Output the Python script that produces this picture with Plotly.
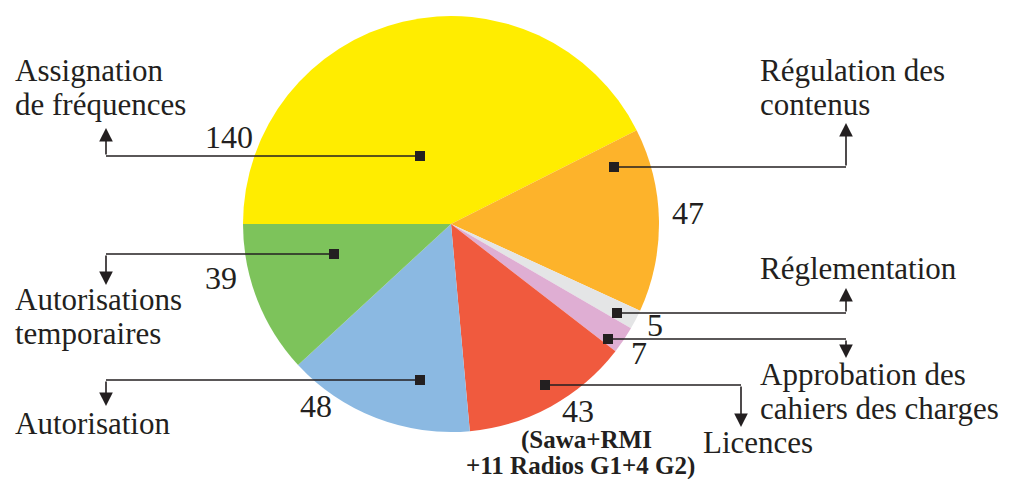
import plotly.graph_objects as go

# ---- data ----
categories = ["Assignation de fréquences", "Régulation des contenus", "Réglementation",
              "Approbation des cahiers des charges", "Licences", "Autorisation",
              "Autorisations temporaires"]
values = [140, 47, 5, 7, 43, 48, 39]
value_labels = ["140", "47", "5", "7", "43", "48", "39"]
label_lines = [["Assignation", "de fréquences"], ["Régulation des", "contenus"],
               ["Réglementation"], ["Approbation des", "cahiers des charges"],
               ["Licences"], ["Autorisation"], ["Autorisations", "temporaires"]]
licence_note = ["(Sawa+RMI", "+11 Radios G1+4 G2)"]

# ---- styles / layout (pixel space) ----
colors = ["#FFED00", "#FDB32B", "#E4E5E6", "#DFAED3", "#F05A3E", "#8BB9E2", "#7DC35B"]
W, H = 1016, 479
cx, cy, R = 451, 224, 208
ink = "#231f20"
FONT = "'Liberation Serif', 'Times New Roman', 'DejaVu Serif', serif"

# leader: marker point, corner x, arrow tip y
leaders = [((420, 156), 106, 128), ((614, 167), 846, 123), ((617, 313), 846, 288),
           ((608, 339), 846, 358), ((545, 385), 741, 427), ((420, 380), 106, 406),
           ((334, 254), 106, 285)]
label_pos = [(14, [70, 104]), (759, [70, 104]), (759, [268]), (759, [374, 408]),
             (702, [442]), (14, [423]), (14, [299, 333])]
value_pos = [(229, 137), (688, 213), (655, 325), (639, 353), (578, 411), (316, 406), (221, 278)]
note_pos = [(586, 440), (580, 466)]

fig = go.Figure()
fig.add_trace(go.Pie(
    labels=categories, values=values, sort=False, direction="clockwise", rotation=270,
    marker=dict(colors=colors, line=dict(width=0)), textinfo="none", hoverinfo="label+value",
    domain=dict(x=[(cx - R) / W, (cx + R) / W], y=[1 - (cy + R) / H, 1 - (cy - R) / H]),
    showlegend=False))

shapes = []
annotations = []
for (pt, xc, ytip) in leaders:
    shapes.append(dict(type="line", xref="x", yref="y", x0=pt[0], y0=pt[1], x1=xc, y1=pt[1],
                       layer="above", line=dict(color=ink, width=1.6)))
    shapes.append(dict(type="rect", xref="x", yref="y", x0=pt[0] - 5, x1=pt[0] + 5,
                       y0=pt[1] - 5, y1=pt[1] + 5, layer="above",
                       fillcolor=ink, line=dict(width=0)))
    annotations.append(dict(x=xc, y=ytip, ax=xc, ay=pt[1], xref="x", yref="y", axref="x", ayref="y",
                            text="", showarrow=True, arrowhead=2, arrowsize=1.7, arrowwidth=1.6,
                            arrowcolor=ink, standoff=0, startstandoff=0))

for lines, (lx, ys) in zip(label_lines, label_pos):
    for t, yy in zip(lines, ys):
        annotations.append(dict(x=lx, y=yy, xref="x", yref="y", text=t, showarrow=False,
                                xanchor="left", yanchor="middle", borderpad=0,
                                font=dict(family=FONT, size=31, color=ink)))

for t, (vx, vy) in zip(value_labels, value_pos):
    annotations.append(dict(x=vx, y=vy, xref="x", yref="y", text=t, showarrow=False,
                            xanchor="center", yanchor="middle",
                            font=dict(family=FONT, size=32, color=ink)))

for t, (nx, ny) in zip(licence_note, note_pos):
    annotations.append(dict(x=nx, y=ny, xref="x", yref="y", text="<b>" + t + "</b>", showarrow=False,
                            xanchor="center", yanchor="middle",
                            font=dict(family=FONT, size=25, color=ink)))

fig.update_layout(
    width=W, height=H, margin=dict(l=0, r=0, t=0, b=0),
    paper_bgcolor="white", plot_bgcolor="rgba(0,0,0,0)",
    xaxis=dict(range=[0, W], visible=False, domain=[0, 1], fixedrange=True),
    yaxis=dict(range=[H, 0], visible=False, domain=[0, 1], fixedrange=True),
    shapes=shapes, annotations=annotations)

fig.write_html("out.html")
